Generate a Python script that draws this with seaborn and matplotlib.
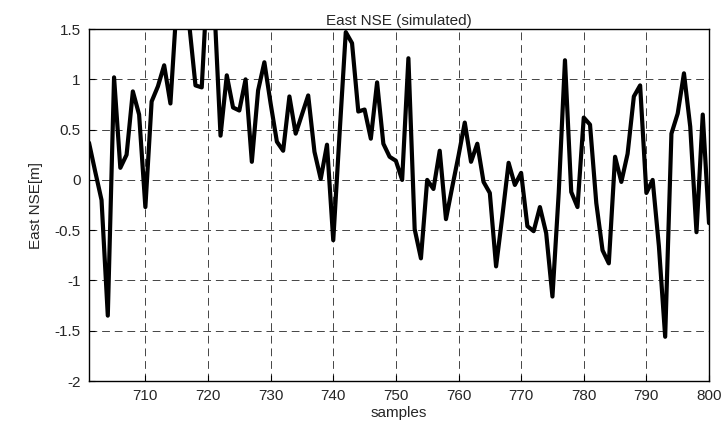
import numpy as np
import pandas as pd
import matplotlib
matplotlib.use("Agg")
import matplotlib.pyplot as plt
import seaborn as sns

# East NSE values, samples 701..800
samples = list(range(701, 801))
east_nse = [
    0.37, 0.08, -0.20, -1.35, 1.02, 0.12, 0.25, 0.88, 0.65, -0.27,   # 701-710
    0.78, 0.93, 1.14, 0.76, 1.75, 1.80, 1.55, 0.94, 0.92, 2.10,      # 711-720
    1.75, 0.44, 1.04, 0.72, 0.69, 1.00, 0.18, 0.89, 1.17, 0.76,      # 721-730
    0.38, 0.29, 0.83, 0.46, 0.65, 0.84, 0.28, 0.01, 0.35, -0.60,     # 731-740
    0.45, 1.47, 1.36, 0.68, 0.70, 0.41, 0.97, 0.36, 0.23, 0.19,      # 741-750
    0.00, 1.21, -0.49, -0.78, 0.00, -0.09, 0.29, -0.39, -0.07, 0.24, # 751-760
    0.57, 0.18, 0.36, -0.02, -0.13, -0.86, -0.36, 0.17, -0.05, 0.07, # 761-770
    -0.46, -0.51, -0.27, -0.53, -1.16, -0.13, 1.19, -0.12, -0.27, 0.62, # 771-780
    0.55, -0.23, -0.70, -0.83, 0.23, -0.02, 0.26, 0.83, 0.94, -0.13,  # 781-790
    0.00, -0.66, -1.56, 0.46, 0.66, 1.06, 0.53, -0.52, 0.65, -0.43,   # 791-800
]
x_ticks = [710, 720, 730, 740, 750, 760, 770, 780, 790, 800]
y_ticks = [-2, -1.5, -1, -0.5, 0, 0.5, 1, 1.5]
y_tick_labels = ["-2", "-1.5", "-1", "-0.5", "0", "0.5", "1", "1.5"]

df = pd.DataFrame({"samples": samples, "east": east_nse})

sns.set_style("ticks")
plt.rcParams["font.family"] = ["Liberation Sans", "DejaVu Sans"]

fig = plt.figure(figsize=(7.26, 4.24), dpi=100)
ax = fig.add_axes([0.1226, 0.1014, 0.854, 0.830])

sns.lineplot(data=df, x="samples", y="east", color="black", linewidth=3, ax=ax)

ax.set_xlim(701, 800)
ax.set_ylim(-2, 1.5)
ax.set_xticks(x_ticks)
ax.set_yticks(y_ticks)
ax.set_yticklabels(y_tick_labels)
ax.grid(True, linestyle=(0, (8, 5)), color="#444444", linewidth=0.7)
ax.tick_params(direction="in", labelsize=11, length=4, color="black", pad=6)
for s in ax.spines.values():
    s.set_visible(True)
    s.set_color("black")
    s.set_linewidth(1.0)

ax.set_title("East NSE (simulated)", fontsize=11, pad=3)
ax.set_xlabel("samples", fontsize=11, labelpad=2)
ax.set_ylabel("East NSE[m]", fontsize=11, labelpad=8)

fig.savefig("out.png", dpi=100)
